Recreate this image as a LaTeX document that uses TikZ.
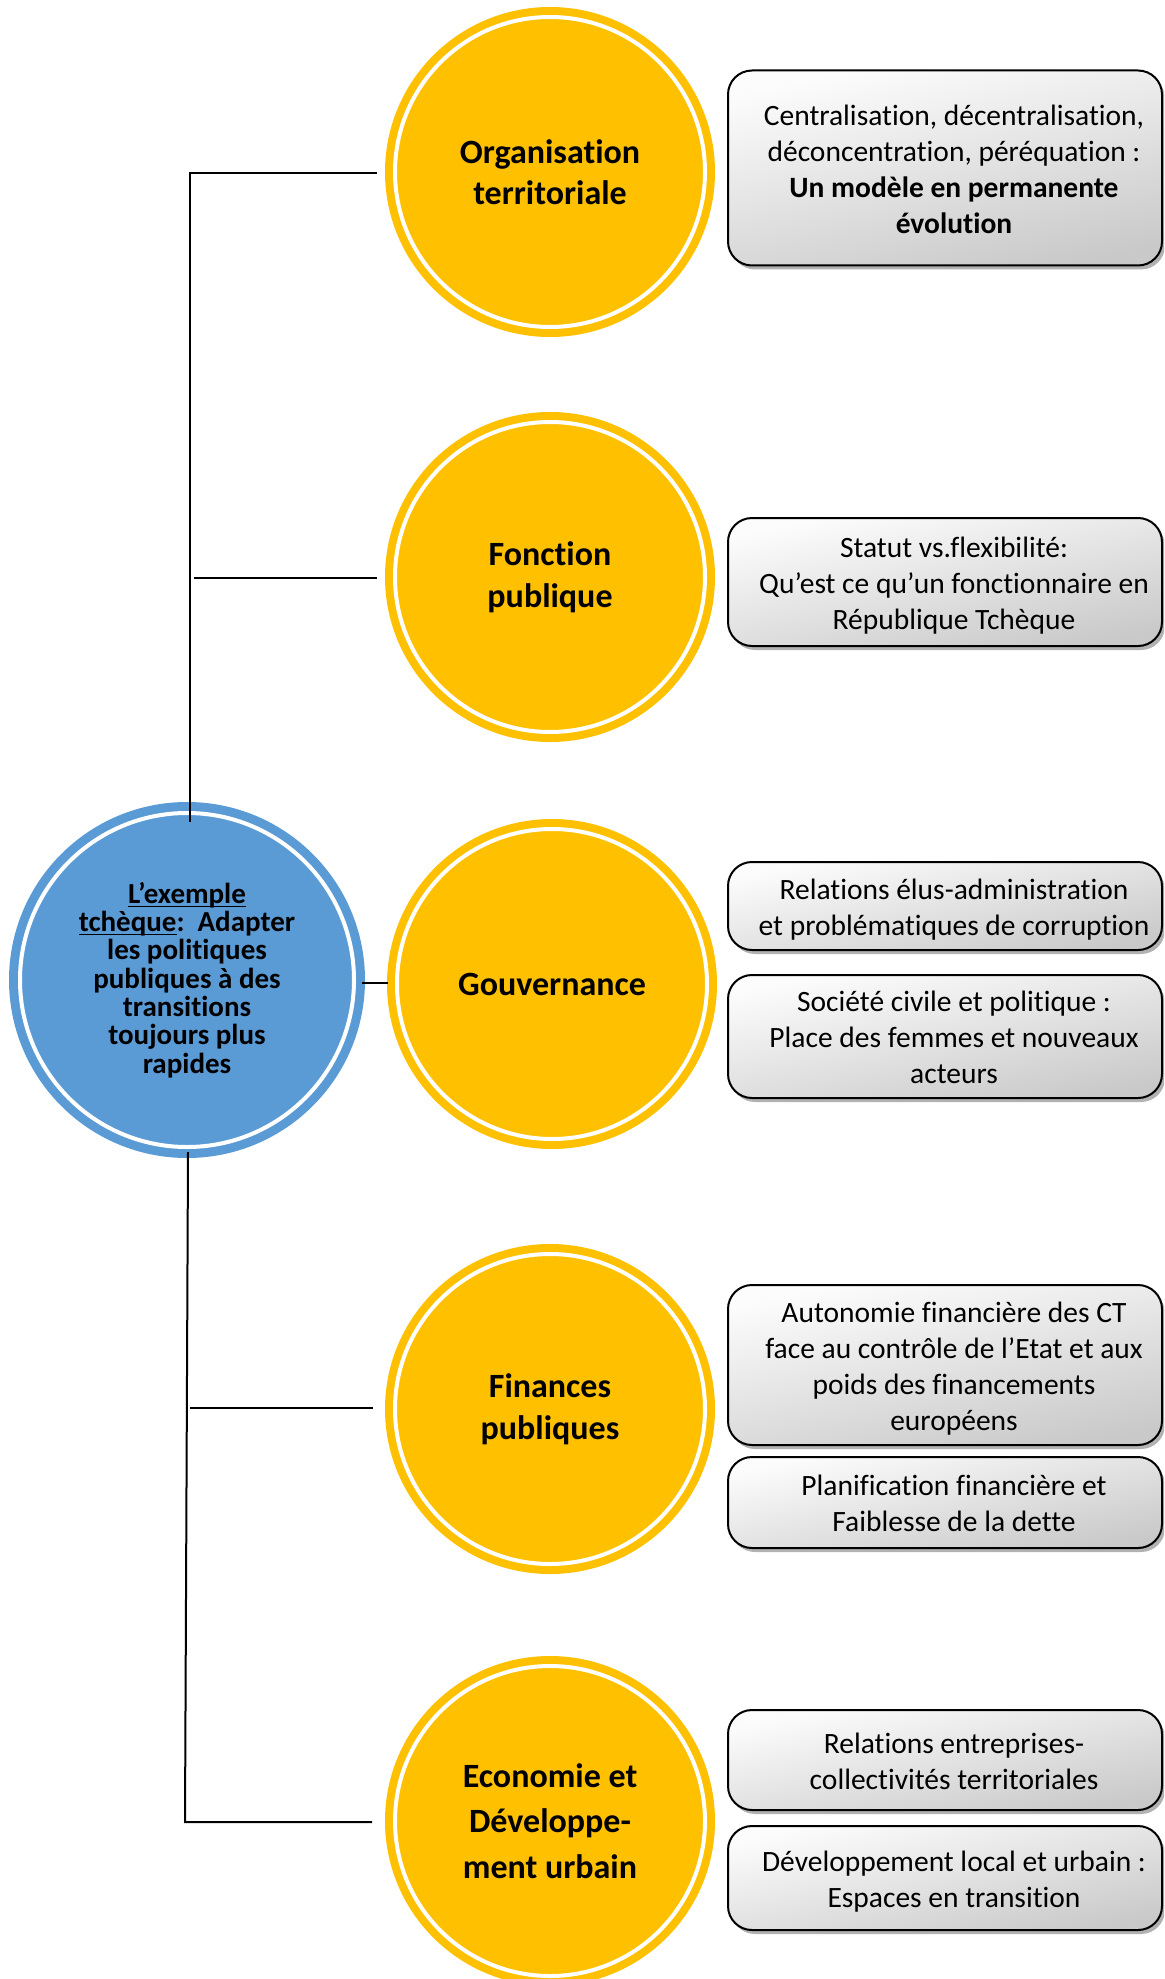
\documentclass[tikz,border=0pt]{standalone}
\usepackage{fontspec}
\setmainfont{Carlito}[Ligatures=NoCommon]
\usetikzlibrary{calc,shadows}
\definecolor{gold}{HTML}{FFC000}
\definecolor{oblue}{HTML}{5B9BD5}
\newcommand\myul[1]{\setbox0\hbox{#1}\rlap{\rule[-1.9pt]{\wd0}{0.8pt}}\box0}
\newcommand\boxtext[1]{\kern9pt\raisebox{-2pt}[\height][\depth]{\begin{tabular}{@{}c@{}}#1\end{tabular}}}
\begin{document}
\begin{tikzpicture}[x=0.5pt,y=-0.5pt,
  topic/.style={circle, minimum size=155pt, inner sep=0pt, outer sep=0pt,
    fill=gold, draw=gold, line width=4pt, double=white, double distance=2pt,
    align=center, text=black, font=\bfseries\fontsize{17}{20.8}\selectfont},
  rootnode/.style={circle, minimum size=167pt, inner sep=0pt, outer sep=0pt,
    fill=oblue, draw=oblue, line width=4.5pt, double=white, double distance=2pt,
    align=center, text=black, font=\bfseries\fontsize{14.5}{14.15}\selectfont},
  infobox/.style={rectangle, rounded corners=12pt, draw=black, line width=1pt,
    minimum width=217pt, inner sep=2pt,
    top color=gray!2, bottom color=gray!42, shading angle=12,
    drop shadow={shadow xshift=1.5pt, shadow yshift=-2pt, fill=gray!75, opacity=0.8},
    font=\fontsize{14.75}{18}\selectfont},
  conn/.style={line width=1pt, black}]
\useasboundingbox (0,0) rectangle (1164,1979);
\clip (0,0) rectangle (1164,1979);

% central node
\node[rootnode] (root) at (187,980)
  {\myul{L’exemple}\\\myul{tchèque}:\ \ Adapter\\les politiques\\publiques à des\\transitions\\toujours plus\\rapides};

% topic circles
\node[topic] (c1) at (550,172) {Organisation\\territoriale};
\node[topic] (c2) at (550,577) {Fonction\\publique};
\node[topic] (c3) at (552,984) {Gouvernance};
\node[topic] (c4) at (550,1409) {Finances\\publiques};
\node[topic, font=\bfseries\fontsize{17}{22.7}\selectfont] (c5) at (550,1821) {Economie et\\Développe-\\ment urbain};

% boxes
\node[infobox, minimum height=97.5pt] (b1) at (945,168)
  {\boxtext{Centralisation, décentralisation,\\déconcentration, péréquation :\\\textbf{Un modèle en permanente}\\\textbf{évolution}}};
\node[infobox, minimum height=64pt] (b2) at (945,582)
  {\boxtext{Statut vs.flexibilité:\\Qu’est ce qu’un fonctionnaire en\\République Tchèque}};
\node[infobox, minimum height=44pt] (b3) at (945,906)
  {\boxtext{Relations élus-administration\\et problématiques de corruption}};
\node[infobox, minimum height=61.5pt] (b4) at (945,1036.5)
  {\boxtext{Société civile et politique :\\Place des femmes et nouveaux\\acteurs}};
\node[infobox, minimum height=80pt] (b5) at (945,1365)
  {\boxtext{Autonomie financière des CT\\face au contrôle de l’Etat et aux\\poids des financements\\européens}};
\node[infobox, minimum height=45.5pt] (b6) at (945,1502.5)
  {\boxtext{Planification financière et\\Faiblesse de la dette}};
\node[infobox, minimum height=50pt] (b7) at (945,1760)
  {\boxtext{Relations entreprises-\\collectivités territoriales}};
\node[infobox, minimum height=52pt] (b8) at (945,1878)
  {\boxtext{Développement local et urbain :\\Espaces en transition}};

% connectors
\coordinate (j5) at (185,1822);
\draw[conn] ($(c1.west)+(-18,1)$) -| ($(root.north)+(3,9)$);
\draw[conn] ($(c2.west)+(-18,1)$) -- ($(c2.west)+(-201,1)$);
\draw[conn] ($(root.east)+(8,3)$) -- ($(c3.west)+(-9,-1)$);
\draw[conn] ($(c4.west)+(-22,-1)$) -- ($(c4.west)+(-205,-1)$);
\draw[conn] ($(root.south)+(1,5)$) -- (j5) -- ($(c5.west)+(-23,1)$);
\end{tikzpicture}
\end{document}
